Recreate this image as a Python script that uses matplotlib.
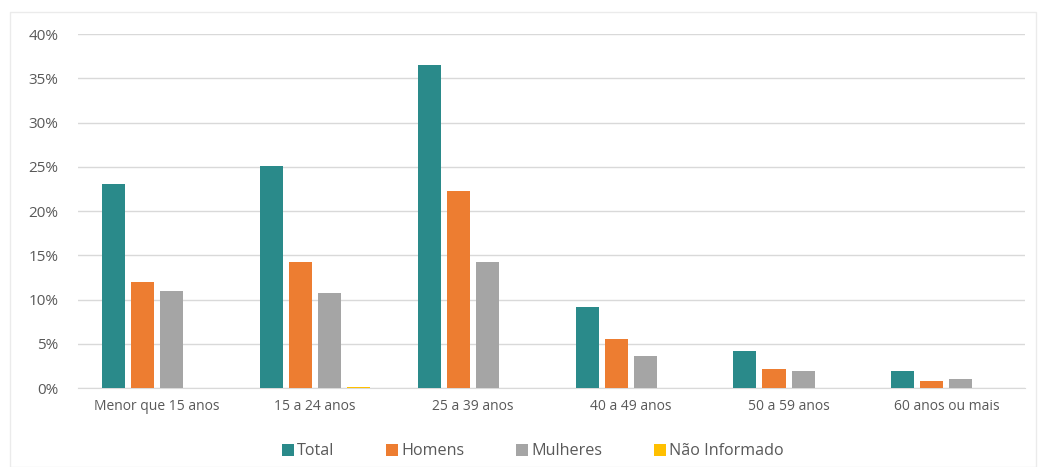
import matplotlib
matplotlib.use("Agg")
import matplotlib.pyplot as plt
import numpy as np
from matplotlib.patches import Rectangle
from matplotlib.ticker import PercentFormatter

plt.rcParams['font.family'] = ['Open Sans', 'DejaVu Sans']

categories = ["Menor que 15 anos", "15 a 24 anos", "25 a 39 anos",
              "40 a 49 anos", "50 a 59 anos", "60 anos ou mais"]
total = [23.1, 25.1, 36.5, 9.2, 4.2, 1.9]
homens = [12.0, 14.3, 22.3, 5.5, 2.2, 0.8]
mulheres = [11.0, 10.8, 14.2, 3.6, 1.9, 1.0]
nao_informado = [0.0, 0.1, 0.0, 0.0, 0.0, 0.0]

series = [("Total", total, "#2A8A8A"),
          ("Homens", homens, "#ED7D31"),
          ("Mulheres", mulheres, "#A5A5A5"),
          ("Não Informado", nao_informado, "#FFC000")]

fig = plt.figure(figsize=(10.42, 4.67), dpi=100)
ax = fig.add_axes([0.075, 0.169, 0.909, 0.758])

x = np.arange(len(categories))
w = 0.146
step = 0.184
for i, (name, vals, col) in enumerate(series):
    ax.bar(x + (i - 1.5) * step, vals, w, color=col, label=name, zorder=3)

ax.set_xlim(-0.5, len(categories) - 0.5)
ax.set_ylim(0, 40)
ax.set_yticks(np.arange(0, 41, 5))
ax.yaxis.set_major_formatter(PercentFormatter(decimals=0))
ax.set_xticks(x)
ax.set_xticklabels(categories, fontsize=10, color="#595959")
ax.tick_params(axis="y", labelsize=11, labelcolor="#595959", length=0, pad=14)
ax.tick_params(axis="x", length=0, pad=8)
ax.grid(axis="y", color="#D9D9D9", linewidth=1, zorder=0)
for s in ["top", "right", "left"]:
    ax.spines[s].set_visible(False)
ax.spines["bottom"].set_color("#D9D9D9")

# legend sits a bit left of the axes centre, like the original
leg = ax.legend(loc="upper center", bbox_to_anchor=(0.48, -0.115), ncol=4,
                frameon=False, fontsize=11.6, handlelength=0.75, handleheight=0.75,
                handletextpad=0.2, columnspacing=3.2)
for t in leg.get_texts():
    t.set_color("#595959")

fig.patches.append(Rectangle((0.0096, 0.0), 0.985, 0.974, transform=fig.transFigure,
                             fill=False, edgecolor="#EBEBEB", linewidth=1))

fig.savefig("out.png", dpi=100)
